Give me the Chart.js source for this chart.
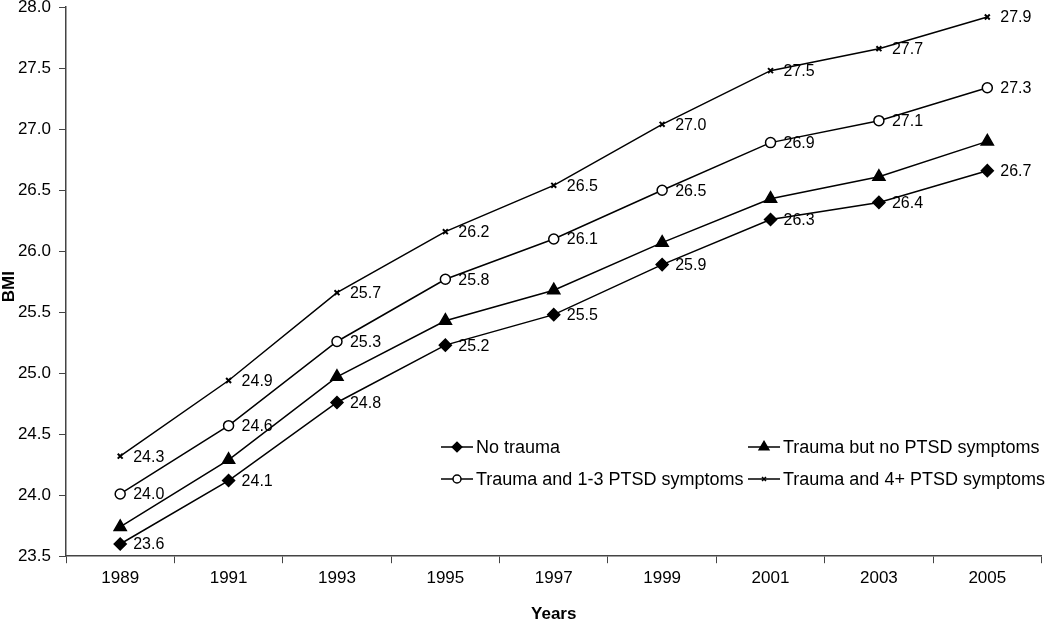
<!DOCTYPE html>
<html>
<head>
<meta charset="utf-8">
<script src="https://cdn.jsdelivr.net/npm/chart.js@4/dist/chart.umd.min.js"></script>
<style>
  html, body { margin: 0; padding: 0; background: #fff; }
  #wrap { position: relative; width: 1050px; height: 619px; overflow: hidden; }
  #bmiChart { position: absolute; left: 0; top: -11px; }
</style>
</head>
<body>
<div id="wrap"><canvas id="bmiChart" width="1050" height="630"></canvas></div>
<script>
// Data
const years = ['1989', '1991', '1993', '1995', '1997', '1999', '2001', '2003', '2005'];
const noTrauma = [23.60, 24.12, 24.76, 25.23, 25.48, 25.89, 26.26, 26.40, 26.66];
const traumaNoPtsd = [23.74, 24.29, 24.97, 25.43, 25.68, 26.07, 26.43, 26.61, 26.90];
const trauma13 = [24.01, 24.57, 25.26, 25.77, 26.10, 26.50, 26.89, 27.07, 27.34];
const trauma4plus = [24.32, 24.94, 25.66, 26.16, 26.54, 27.04, 27.48, 27.66, 27.92];
const seriesNames = ['No trauma', 'Trauma but no PTSD symptoms', 'Trauma and 1-3 PTSD symptoms', 'Trauma and 4+ PTSD symptoms'];

const FONT = '"Liberation Sans", Arial, sans-serif';
const SHIFT = 11; // canvas is moved up by this much

// Draw value labels to the right of each point (for series that have them)
const valueLabels = {
  id: 'valueLabels',
  afterDatasetsDraw(chart) {
    const ctx = chart.ctx;
    ctx.save();
    ctx.font = '16px ' + FONT;
    ctx.fillStyle = '#000';
    ctx.textBaseline = 'middle';
    ctx.textAlign = 'left';
    chart.data.datasets.forEach((ds, i) => {
      if (!ds.showValues) return;
      chart.getDatasetMeta(i).data.forEach((pt, j) => {
        ctx.fillText(ds.data[j].toFixed(1), pt.x + 13, pt.y + 1);
      });
    });
    ctx.restore();
  }
};

// Y axis title drawn by hand so it can sit at the far left
const yTitle = {
  id: 'yTitle',
  afterDraw(chart) {
    const ctx = chart.ctx;
    const area = chart.chartArea;
    ctx.save();
    ctx.translate(9, (area.top + area.bottom) / 2 + 5);
    ctx.rotate(-Math.PI / 2);
    ctx.font = 'bold 17px ' + FONT;
    ctx.fillStyle = '#000';
    ctx.textAlign = 'center';
    ctx.textBaseline = 'middle';
    ctx.fillText('BMI', 0, 0);
    ctx.restore();
  }
};

// Legend inside the plot, two columns
const innerLegend = {
  id: 'innerLegend',
  afterDraw(chart) {
    const ctx = chart.ctx;
    const spots = [[441, 447], [748, 447], [441, 479], [748, 479]];
    ctx.save();
    ctx.font = '18px ' + FONT;
    ctx.textBaseline = 'middle';
    chart.data.datasets.forEach((ds, i) => {
      const x = spots[i][0];
      const y = spots[i][1] + SHIFT;
      ctx.strokeStyle = '#000';
      ctx.lineWidth = 1.5;
      ctx.beginPath();
      ctx.moveTo(x, y);
      ctx.lineTo(x + 32, y);
      ctx.stroke();
      ctx.fillStyle = ds.pointBackgroundColor;
      Chart.helpers.drawPoint(ctx, {
        pointStyle: ds.pointStyle,
        radius: ds.pointRadius * 0.8,
        borderWidth: ds.pointBorderWidth
      }, x + 16, y);
      ctx.fillStyle = '#000';
      ctx.fillText(ds.label, x + 35, y + 1);
    });
    ctx.restore();
  }
};

function makeSet(label, data, style, radius, bg, labels) {
  return {
    label: label,
    data: data,
    borderColor: '#000',
    borderWidth: 1.5,
    pointStyle: style,
    pointRadius: radius,
    pointHoverRadius: radius,
    pointBackgroundColor: bg,
    pointBorderColor: '#000',
    pointBorderWidth: style === 'crossRot' ? 2 : 1.5,
    tension: 0,
    showValues: labels
  };
}

const ctx = document.getElementById('bmiChart').getContext('2d');
new Chart(ctx, {
  type: 'line',
  data: {
    labels: years,
    datasets: [
      makeSet(seriesNames[0], noTrauma, 'rectRot', 6, '#000', true),
      makeSet(seriesNames[1], traumaNoPtsd, 'triangle', 7, '#000', false),
      makeSet(seriesNames[2], trauma13, 'circle', 5, '#fff', true),
      makeSet(seriesNames[3], trauma4plus, 'crossRot', 3.5, '#000', true)
    ]
  },
  options: {
    responsive: false,
    animation: false,
    layout: { padding: { top: 0, right: 6, bottom: -6, left: 0 } },
    plugins: {
      legend: { display: false },
      tooltip: { enabled: false }
    },
    scales: {
      x: {
        offset: true,
        grid: { offset: true, drawOnChartArea: false, drawTicks: true, tickLength: 7, color: '#444' },
        border: { display: true, color: '#444', width: 1.5 },
        ticks: { color: '#000', font: { family: FONT, size: 17 }, padding: 5, maxRotation: 0 },
        title: { display: true, text: 'Years', color: '#000', font: { family: FONT, size: 17, weight: 'bold' }, padding: { top: 11, bottom: 0 } }
      },
      y: {
        min: 23.5,
        max: 28.0,
        afterFit: scale => { scale.width = 66; },
        ticks: {
          stepSize: 0.5,
          color: '#000',
          font: { family: FONT, size: 17 },
          padding: 8,
          callback: v => v.toFixed(1)
        },
        grid: { drawOnChartArea: false, drawTicks: true, tickLength: 7, color: '#444' },
        border: { display: true, color: '#444', width: 1.5 },
        title: { display: false }
      }
    }
  },
  plugins: [valueLabels, yTitle, innerLegend]
});
</script>
</body>
</html>
